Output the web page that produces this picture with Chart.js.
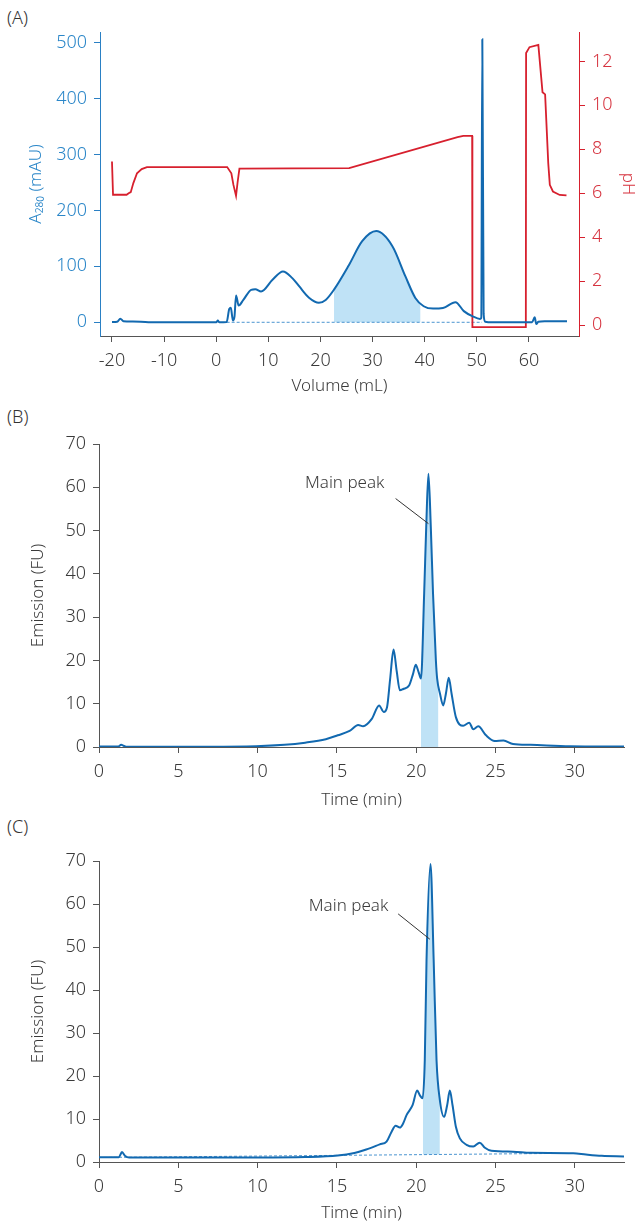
<!DOCTYPE html>
<html>
<head>
<meta charset="utf-8">
<script src="https://cdn.jsdelivr.net/npm/chart.js@4.4.1/dist/chart.umd.min.js"></script>
<style>
  body { margin: 0; background: #fff; width: 638px; height: 1227px; position: relative; overflow: hidden; font-family: "Noto Sans", "DejaVu Sans", sans-serif; }
  .box { position: absolute; left: 0; width: 638px; }
  .tag { position: absolute; left: 7px; font-size: 18px; font-weight: 300; line-height: 22px; color: #333; }
</style>
</head>
<body>
<div class="tag" style="top:6px">(A)</div>
<div class="tag" style="top:405px">(B)</div>
<div class="tag" style="top:815px">(C)</div>
<div class="box" style="top:0;height:400px"><canvas id="chartA"></canvas></div>
<div class="box" style="top:400px;height:414px"><canvas id="chartB"></canvas></div>
<div class="box" style="top:812px;height:415px"><canvas id="chartC"></canvas></div>
<script>
// ---- (A) A280 trace [volume mL, mAU] and pH trace [volume mL, pH] ----
const traceA = [
  [-20, 0.5], [-19, 1], [-18.4, 6.5], [-17.8, 2], [-16, 1.5], [-13, 0.3], [-5, 0], [0, 0],
  [0.3, 3], [0.6, 0], [2.0, 0.5], [2.5, 24], [2.8, 26], [3.2, 3], [3.5, 10], [3.8, 48],
  [4.3, 30], [5.2, 40], [6.7, 58], [7.5, 59], [8.6, 55], [10.8, 76], [12.8, 91], [14.6, 79],
  [15.9, 64.5], [17.8, 44], [19.7, 35], [21, 40], [22.6, 58.5], [25.5, 103], [28, 145],
  [30.7, 163], [33.8, 136], [36.3, 82], [38.2, 43.6], [39.8, 28.7], [41.6, 24.5], [43.5, 25.5],
  [45.9, 36], [47.5, 20], [49.2, 10.7], [50.6, 6], [50.85, 8], [51.05, 506], [51.3, 15],
  [51.6, 1], [53, 0], [56, 0], [60.6, 0], [61.1, 9], [61.4, -3], [61.8, 1], [63, 2], [67.3, 2]
];
const phA = [
  [-20, 7.44], [-19.8, 5.93], [-17.2, 5.93], [-16.8, 6.0], [-16.4, 6.05], [-15.9, 6.46],
  [-15.2, 6.91], [-14.3, 7.1], [-13.3, 7.19], [2.1, 7.19], [2.9, 6.91], [3.3, 6.38], [3.8, 5.88],
  [4.1, 6.5], [4.45, 7.12], [25.5, 7.14], [46.3, 8.55], [47.4, 8.61], [49.1, 8.61], [49.15, -0.1],
  [59.4, -0.1], [59.45, 12.38], [60.1, 12.65], [61.8, 12.75], [62.6, 10.6], [63.1, 10.5],
  [63.7, 7.37], [64.0, 6.38], [64.6, 6.08], [65.9, 5.92], [67.2, 5.9]
];
const baselineA = [[2, 0], [51, 0]];
const poolA = [22.6, 39.2];

// ---- (B) emission trace [time min, FU] ----
const traceB = [
  [0, 0.1], [1.2, 0.1], [1.4, 0.5], [1.55, 0.3], [1.75, 0.05], [3, 0.05], [9.9, 0.2], [11.7, 0.5],
  [13, 1.0], [14.3, 1.8], [15.05, 2.7], [15.8, 3.7], [16.34, 5.1], [16.65, 4.8], [17.2, 6.5],
  [17.66, 9.6], [17.95, 8.1], [18.16, 9.2], [18.35, 15.5], [18.57, 22.5], [18.77, 17.5],
  [18.97, 13.1], [19.18, 13.4], [19.55, 14.2], [19.8, 16.9], [19.97, 19.0], [20.15, 17.3],
  [20.3, 15.8], [20.5, 35.4], [20.63, 50.8], [20.77, 63.1], [20.92, 50.8], [21.06, 35.4],
  [21.24, 20.0], [21.32, 15.8], [21.5, 12.3], [21.7, 9.6], [21.87, 12.3], [22.05, 16.0],
  [22.23, 12.3], [22.5, 6.9], [22.96, 4.9], [23.34, 5.6], [23.6, 4.1], [23.91, 4.8], [24.4, 2.7],
  [24.95, 1.4], [25.5, 1.5], [26.1, 0.7], [27.2, 0.5], [29.7, 0.2], [33.1, 0.1]
];
const poolB = [20.3, 21.4];

// ---- (C) emission trace [time min, FU] ----
const traceC = [
  [0, 1.1], [1.25, 1.1], [1.45, 2.3], [1.65, 1.4], [1.9, 1.05], [5, 1.05], [10, 1.05], [13, 1.15],
  [15.05, 1.5], [16.1, 2.1], [16.85, 2.9], [17.7, 4.1], [18.13, 4.75], [18.44, 7.0], [18.7, 8.45],
  [18.97, 8.0], [19.18, 9.0], [19.39, 10.9], [19.77, 13.2], [20.06, 16.6], [20.23, 15.5],
  [20.4, 14.8], [20.54, 23.7], [20.65, 47], [20.9, 69.3], [21.1, 47], [21.28, 23.7], [21.49, 14.4],
  [21.76, 10.5], [21.95, 13.2], [22.12, 16.6], [22.29, 13.2], [22.5, 8.2], [22.75, 5.5],
  [23.17, 4.0], [23.6, 3.6], [24.0, 4.5], [24.33, 3.3], [24.74, 2.6], [26.1, 2.4], [27.2, 2.15],
  [29.9, 2.05], [30.7, 1.75], [31.7, 1.45], [33.1, 1.3]
];
const baselineC = [[0, 1.05], [29, 2.0]];
const poolC = [20.42, 21.49];

const FONT = '"Noto Sans", "DejaVu Sans", sans-serif';
const TEXT = '#3a3a3a';
const BLUE = '#1269b0';
const BLUE_AXIS = '#2a80c4';
const RED = '#d7202e';
const SHADE = '#bfe2f6';

const xy = arr => arr.map(p => ({ x: p[0], y: p[1] }));

function valueAt(arr, x) {
  for (let i = 1; i < arr.length; i++) {
    if (arr[i][0] >= x) {
      const a = arr[i - 1], b = arr[i];
      return a[1] + (b[1] - a[1]) * (x - a[0]) / (b[0] - a[0]);
    }
  }
  return arr[arr.length - 1][1];
}

// piece of a trace between two x values, used for the shaded pool
function slice(arr, from, to) {
  const inside = arr.filter(p => p[0] > from && p[0] < to);
  return [[from, valueAt(arr, from)], ...inside, [to, valueAt(arr, to)]];
}

const calloutPlugin = {
  id: 'callout',
  afterDatasetsDraw(chart, args, o) {
    if (!o || !o.text) return;
    const { ctx, scales: { x, y } } = chart;
    ctx.save();
    ctx.font = '300 17px ' + FONT;
    ctx.fillStyle = TEXT;
    ctx.textAlign = 'right';
    ctx.textBaseline = 'middle';
    ctx.fillText(o.text, x.getPixelForValue(o.at[0]), y.getPixelForValue(o.at[1]));
    ctx.strokeStyle = '#333';
    ctx.lineWidth = 1;
    ctx.beginPath();
    ctx.moveTo(x.getPixelForValue(o.from[0]), y.getPixelForValue(o.from[1]));
    ctx.lineTo(x.getPixelForValue(o.to[0]), y.getPixelForValue(o.to[1]));
    ctx.stroke();
    ctx.restore();
  }
};

Chart.defaults.font.family = FONT;
Chart.defaults.font.size = 17;
Chart.defaults.animation = false;

const tickFont = { family: FONT, size: 18, weight: 300 };
const titleFont = { family: FONT, size: 17, weight: 300 };

function xScale(min, max, step, label, height) {
  return {
    type: 'linear', min, max,
    border: { color: '#555', width: 1 },
    grid: { drawOnChartArea: false, tickLength: 6, color: '#555' },
    ticks: { stepSize: step, includeBounds: false, color: TEXT, font: tickFont, padding: 8, maxRotation: 0 },
    title: { display: true, text: label, color: TEXT, font: titleFont, padding: { top: 2, bottom: 4 } },
    afterFit: s => { s.height = height; }
  };
}

function yScale(min, max, step, label, color, tickColor, width, titlePad, pos) {
  return {
    type: 'linear', min, max, position: pos || 'left',
    border: { color, width: 1 },
    grid: { drawOnChartArea: false, tickLength: 6, color },
    ticks: { stepSize: step, includeBounds: false, color: tickColor, font: tickFont, padding: 7 },
    title: { display: true, text: label, color: tickColor, font: titleFont, padding: { top: titlePad, bottom: 0 } },
    afterFit: s => { s.width = width; }
  };
}

const lineBase = { pointRadius: 0, pointHoverRadius: 0, cubicInterpolationMode: 'monotone' };

// ----- (A) -----
new Chart(document.getElementById('chartA'), {
  type: 'line',
  data: {
    datasets: [
      { ...lineBase, data: xy(traceA), borderColor: BLUE, borderWidth: 2, yAxisID: 'y', order: 1 },
      { ...lineBase, data: xy(phA), cubicInterpolationMode: 'default', tension: 0, borderColor: RED, borderWidth: 1.8, yAxisID: 'y1', order: 2 },
      { ...lineBase, data: xy(baselineA), borderColor: '#4a94d0', borderWidth: 1, borderDash: [3, 2], yAxisID: 'y', order: 3 },
      { ...lineBase, data: xy(slice(traceA, poolA[0], poolA[1])), borderWidth: 0, borderColor: 'rgba(0,0,0,0)', backgroundColor: SHADE, fill: 'origin', yAxisID: 'y', order: 4 }
    ]
  },
  options: {
    responsive: true, maintainAspectRatio: false,
    layout: { padding: { top: 32, left: 0, right: 0, bottom: 0 } },
    plugins: { legend: { display: false }, tooltip: { enabled: false } },
    scales: {
      x: xScale(-22.3, 69.6, 10, 'Volume (mL)', 64),
      y: yScale(-24.5, 519, 100, 'A₂₈₀ (mAU)', BLUE_AXIS, '#2a86c8', 100, 26),
      y1: yScale(-0.5, 13.34, 2, 'pH', RED, '#d6333f', 59, 0, 'right')
    }
  }
});

// ----- (B) and (C) -----
function emissionChart(id, trace, pool, baseline, callout, topPad, xHeight) {
  const datasets = [
    { ...lineBase, data: xy(trace), borderColor: BLUE, borderWidth: 2, order: 1 }
  ];
  let fillTo = 'origin';
  if (baseline) {
    datasets.push({ ...lineBase, data: xy(baseline), borderColor: '#4a94d0', borderWidth: 1, borderDash: [3, 2], order: 2 });
    fillTo = { value: valueAt(baseline, (pool[0] + pool[1]) / 2) };
  }
  datasets.push({ ...lineBase, data: xy(slice(trace, pool[0], pool[1])), borderWidth: 0, borderColor: 'rgba(0,0,0,0)', backgroundColor: SHADE, fill: fillTo, order: 3 });

  return new Chart(document.getElementById(id), {
    type: 'line',
    data: { datasets },
    plugins: [calloutPlugin],
    options: {
      responsive: true, maintainAspectRatio: false,
      layout: { padding: { top: topPad, left: 0, right: 14, bottom: 0 } },
      plugins: { legend: { display: false }, tooltip: { enabled: false }, callout },
      scales: {
        x: xScale(0, 33.1, 5, 'Time (min)', xHeight),
        y: yScale(0, 70, 10, 'Emission (FU)', '#555', TEXT, 99, 28)
      }
    }
  });
}

emissionChart('chartB', traceB, poolB, null,
  { text: 'Main peak', at: [18.0, 60.9], from: [18.7, 57.4], to: [20.77, 51.6] }, 44, 67);
emissionChart('chartC', traceC, poolC, baselineC,
  { text: 'Main peak', at: [18.24, 59.5], from: [18.86, 57.7], to: [20.86, 51.8] }, 49, 65);
</script>
</body>
</html>
